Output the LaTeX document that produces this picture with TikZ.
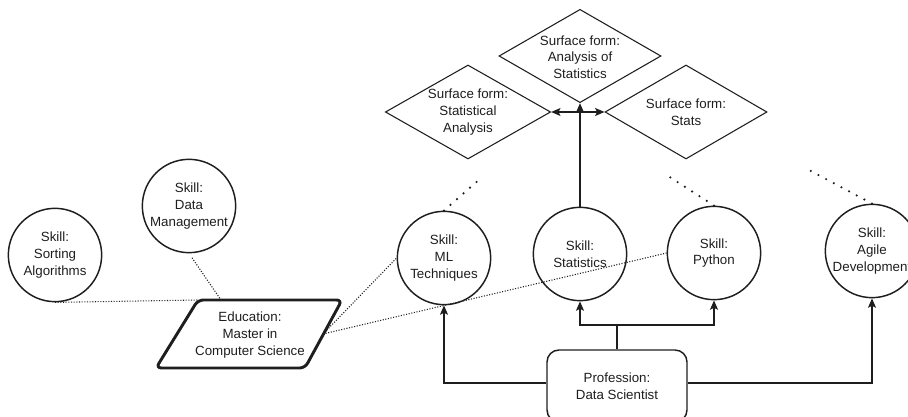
\documentclass[tikz,border=0pt]{standalone}
\usepackage{fontspec}
\setmainfont{Liberation Sans}
\usetikzlibrary{shapes.geometric,arrows.meta}
\definecolor{ink}{RGB}{30,30,30}
\begin{document}
\begin{tikzpicture}[x=0.75pt,y=-0.75pt,
  font=\fontsize{10}{12.5}\selectfont,
  skill/.style={circle,draw=ink,line width=1.1pt,minimum size=70pt,inner sep=0pt,align=center,text=ink},
  form/.style={diamond,draw=ink,line width=0.8pt,inner sep=0pt},
  lbl/.style={align=center,inner sep=0pt,text=ink},
  link/.style={draw=ink,line width=1.1pt,-{Stealth[length=7pt,width=6pt,inset=1.5pt]}},
  plain/.style={draw=ink,line width=1.1pt},
  fine/.style={draw=ink,line width=0.8pt,dash pattern=on 0.8pt off 1.2pt},
  loose/.style={draw=ink,line width=1.8pt,line cap=round,dash pattern=on 0pt off 6.5pt},
]
\useasboundingbox (0,0) rectangle (908,417);
\clip (0,0) rectangle (908,417);

% surface forms
\node[form,minimum width=121.5pt,minimum height=70pt] (fTop) at (580,56) {};
\node[lbl] (fTopText) at (580,57) {Surface form:\\Analysis of\\Statistics};
\node[form,minimum width=124pt,minimum height=70.5pt] (fLeft) at (468,112) {};
\node[lbl] (fLeftText) at (468,112) {Surface form:\\Statistical\\Analysis};
\node[form,minimum width=121.5pt,minimum height=70.5pt] (fRight) at (686,112) {};
\node[lbl] (fRightText) at (686,112) {Surface form:\\Stats};

% skills
\node[skill] (sort)  at (55,255)  {Skill:\\Sorting\\Algorithms};
\node[skill] (data)  at (189,206) {Skill:\\Data\\Management};
\node[skill] (ml)    at (444,258) {Skill:\\ML\\Techniques};
\node[skill] (stat)  at (580,254) {Skill:\\Statistics};
\node[skill] (py)    at (714,253) {Skill:\\Python};
\node[skill] (agile) at (872,251) {Skill:\\Agile\\Development};

% education (slanted box)
\coordinate (eTL) at (198,300);
\coordinate (eTR) at (342,300);
\coordinate (eBR) at (305,368);
\coordinate (eBL) at (156,368);
\draw[ink,line width=2.2pt,rounded corners=4pt] (eTL) -- (eTR) -- (eBR) -- (eBL) -- cycle;
\node[lbl] (edu) at (250,335) {Education:\\Master in\\Computer Science};
\coordinate (eData)  at (221,300);
\coordinate (eRight) at (323,334);

% profession
\node[draw=ink,line width=1.1pt,rounded corners=9pt,minimum width=105pt,minimum height=54pt,align=center,text=ink] (prof) at (617,386) {Profession:\\Data Scientist};

% profession to skills
\coordinate (split) at (617,325);
\draw[plain] (prof.north) -- (split);
\draw[link] (split) -| (stat.south);
\draw[link] (split) -| (py.south);
\draw[link] (prof.west |- 0,383) -| (ml.south);
\draw[link] (prof.east |- 0,383) -| (agile.south);

% statistics to its surface forms
\coordinate (fork) at (580,112);
\draw[draw=ink,line width=1.6pt,-{Stealth[length=7pt,width=6pt,inset=1.5pt]}] (stat.north) -- (fTop.south);
\draw[link,line width=0.9pt] (fork) -- (fLeft.east);
\draw[link,line width=0.9pt] (fork) -- (fRight.west);

% education links
\draw[fine] (sort.south) -- (eTL);
\draw[fine,shorten <=4pt] (data.south) -- (eData);
\draw[fine] (eRight) -- (ml.west);
\draw[fine] (eRight) -- (py.west);

% open-ended links
\coordinate (mlEnd) at (481,178);
\coordinate (pyEnd) at (665,174);
\coordinate (agEnd) at (809,170);
\draw[loose] (ml.north) -- (mlEnd);
\draw[loose] (py.north) -- (pyEnd);
\draw[loose] (agile.north) -- (agEnd);
\end{tikzpicture}
\end{document}
